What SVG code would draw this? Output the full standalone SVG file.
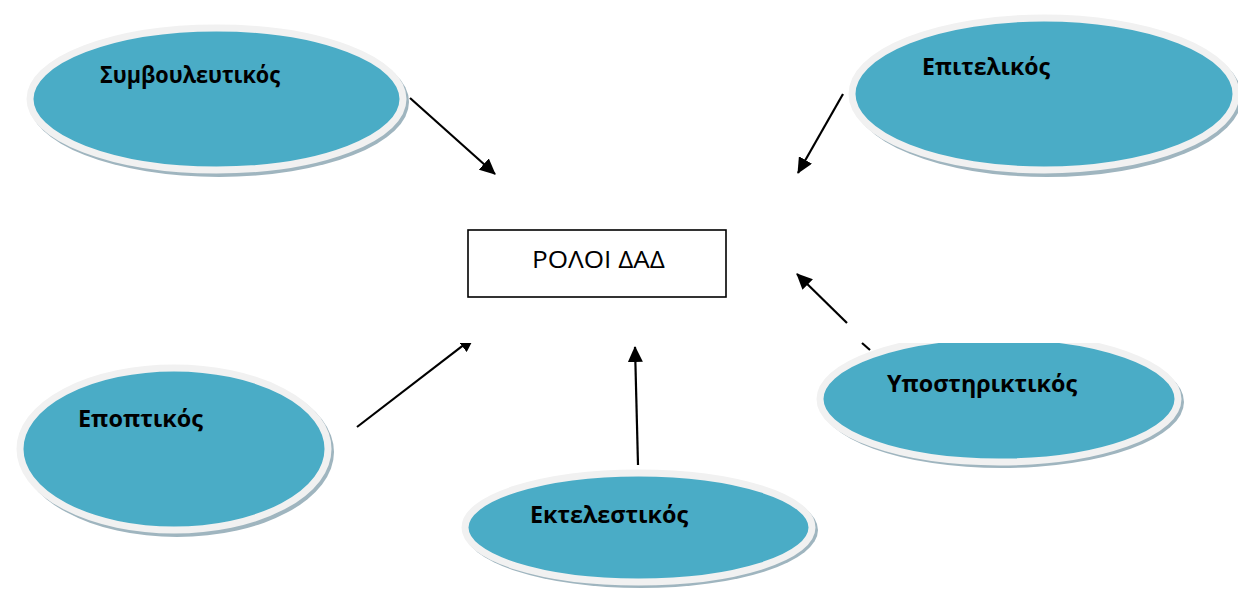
<svg xmlns="http://www.w3.org/2000/svg" width="1238" height="592" viewBox="0 0 1238 592">
<style>
.sh{fill:#9fb5bf;}
.el{fill:#4AACC6;stroke:#F1F1F1;stroke-width:7;}
.lb{font-family:"Open Sans","Noto Sans",sans-serif;font-weight:bold;font-size:23px;fill:#000;}
.ct{font-family:"Open Sans","Noto Sans",sans-serif;font-size:23px;fill:#000;}
.cn{stroke:#000;stroke-width:2.2;fill:none;}
</style>
<defs>
<marker id="ah" markerUnits="userSpaceOnUse" markerWidth="16" markerHeight="15" refX="15" refY="7.5" orient="auto" viewBox="0 0 16 15">
<path d="M0,0 L16,7.5 L0,15 z" fill="#000"/>
</marker>
<clipPath id="cut3"><rect x="0" y="343" width="1238" height="249"/></clipPath>
</defs>
<rect width="1238" height="592" fill="#fff"/>
<g id="n-center">
<rect x="468" y="230" width="258" height="67" fill="#fff" stroke="#000" stroke-width="1.6"/>
<text class="ct" x="532" y="268" textLength="133" lengthAdjust="spacingAndGlyphs">ΡΟΛΟΙ ΔΑΔ</text>
</g>
<g id="n-symvouleftikos">
<ellipse class="sh" cx="219" cy="102" rx="190" ry="75"/>
<ellipse class="el" cx="216.5" cy="99" rx="186.5" ry="71"/>
<text class="lb" x="100" y="83" textLength="180" lengthAdjust="spacingAndGlyphs">Συμβουλευτικός</text>
</g>
<g id="n-epitelikos">
<ellipse class="sh" cx="1047" cy="97" rx="195" ry="80"/>
<ellipse class="el" cx="1044" cy="94" rx="192" ry="76"/>
<text class="lb" x="922" y="75" textLength="128" lengthAdjust="spacingAndGlyphs">Επιτελικός</text>
</g>
<g id="n-ypostiriktikos">
<g clip-path="url(#cut3)">
<ellipse class="sh" cx="1002" cy="402" rx="182" ry="66"/>
<ellipse class="el" cx="999" cy="399" rx="179" ry="63"/>
</g>
<text class="lb" x="887" y="392" textLength="190" lengthAdjust="spacingAndGlyphs">Υποστηρικτικός</text>
</g>
<g id="n-ektelestikos">
<ellipse class="sh" cx="641" cy="530" rx="177" ry="58"/>
<ellipse class="el" cx="638.5" cy="527.5" rx="173.5" ry="54.5"/>
<text class="lb" x="530" y="523" textLength="158" lengthAdjust="spacingAndGlyphs">Εκτελεστικός</text>
</g>
<g id="n-epoptikos">
<ellipse class="sh" cx="177" cy="452" rx="157" ry="85"/>
<ellipse class="el" cx="174" cy="449" rx="154" ry="81"/>
<text class="lb" x="78" y="427" textLength="125" lengthAdjust="spacingAndGlyphs">Εποπτικός</text>
</g>
<g id="connectors">
<line class="cn" x1="410" y1="98" x2="495" y2="174" marker-end="url(#ah)"/>
<line class="cn" x1="843" y1="94" x2="798" y2="173" marker-end="url(#ah)"/>
<line class="cn" x1="847" y1="323" x2="797" y2="274" marker-end="url(#ah)"/>
<line class="cn" x1="862" y1="343" x2="870" y2="350"/>
<line class="cn" x1="638" y1="465" x2="635" y2="347" marker-end="url(#ah)"/>
<g clip-path="url(#cut3)">
<line class="cn" x1="357" y1="427" x2="474" y2="337" marker-end="url(#ah)"/>
</g>
</g>
</svg>
